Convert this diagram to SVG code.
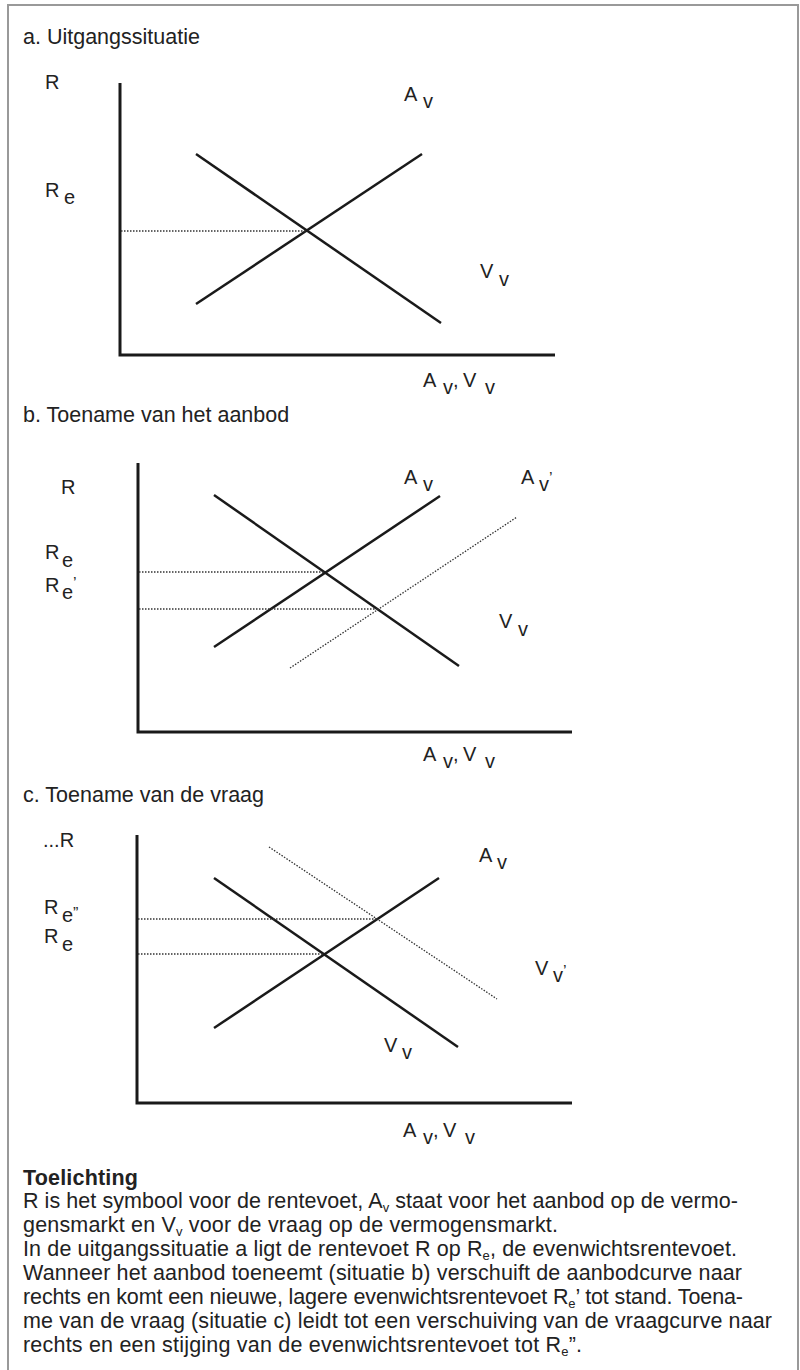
<svg xmlns="http://www.w3.org/2000/svg" width="800" height="1370" viewBox="0 0 800 1370">
<style>
text{font-family:"Liberation Sans",Arial,Helvetica,sans-serif;fill:#222}
.t{font-size:21.5px}
.l{font-size:20px}
.q{font-size:16px}
.sub{font-size:13px}
.b{font-weight:bold}
.ax{stroke:#1a1a1a;stroke-width:3;fill:none}
.cv{stroke:#1a1a1a;stroke-width:2.5;fill:none}
.dt{stroke:#333;stroke-width:1.3;stroke-dasharray:1.5 1.5;fill:none}
</style>
<rect x="0" y="0" width="800" height="1370" fill="#fff"/>
<rect id="frame" x="8" y="5" width="790" height="1400" fill="none" stroke="#999" stroke-width="2"/>

<g id="chart-a">
<text class="t" x="23" y="44">a. Uitgangssituatie</text>
<path class="ax" d="M120 83V355H555"/>
<line class="cv" x1="196" y1="304" x2="422" y2="154"/>
<line class="cv" x1="196" y1="154" x2="441" y2="323"/>
<line class="dt" x1="121" y1="231" x2="306" y2="231"/>
<text class="l" x="45" y="89">R</text>
<text class="l" x="45" y="197">R<tspan x="64" y="204">e</tspan></text>
<text class="l" x="404" y="101">A<tspan x="423" y="108">v</tspan></text>
<text class="l" x="480" y="278">V<tspan x="499" y="286">v</tspan></text>
<text class="l" x="423" y="387">A<tspan x="443" y="394">v</tspan><tspan x="453" y="387">,</tspan><tspan x="463" y="387">V</tspan><tspan x="485" y="394">v</tspan></text>
</g>

<g id="chart-b">
<text class="t" x="23" y="422">b. Toename van het aanbod</text>
<path class="ax" d="M138 463V732H572"/>
<line class="cv" x1="214" y1="647" x2="440" y2="496"/>
<line class="cv" x1="214" y1="495" x2="459" y2="666"/>
<line class="dt" x1="290" y1="668" x2="517" y2="517"/>
<line class="dt" x1="139" y1="572" x2="325" y2="572"/>
<line class="dt" x1="139" y1="609" x2="378" y2="609"/>
<text class="l" x="61" y="494">R</text>
<text class="l" x="45" y="559">R<tspan x="62" y="567">e</tspan></text>
<text class="l" x="45" y="592">R<tspan x="62" y="599">e</tspan><tspan class="q" x="73" y="589">’</tspan></text>
<text class="l" x="404" y="484">A<tspan x="423" y="491">v</tspan></text>
<text class="l" x="521" y="484">A<tspan x="539" y="491">v</tspan><tspan class="q" x="549" y="484">’</tspan></text>
<text class="l" x="499" y="628">V<tspan x="518" y="636">v</tspan></text>
<text class="l" x="423" y="761">A<tspan x="443" y="768">v</tspan><tspan x="453" y="761">,</tspan><tspan x="463" y="761">V</tspan><tspan x="485" y="768">v</tspan></text>
</g>

<g id="chart-c">
<text class="t" x="23" y="802">c. Toename van de vraag</text>
<path class="ax" d="M137 835V1103H572"/>
<line class="cv" x1="214" y1="1028" x2="439" y2="878"/>
<line class="cv" x1="214" y1="878" x2="458" y2="1047"/>
<line class="dt" x1="269" y1="847" x2="497" y2="999"/>
<line class="dt" x1="138" y1="919" x2="377" y2="919"/>
<line class="dt" x1="138" y1="954" x2="324" y2="954"/>
<text class="l" x="43" y="847">...R</text>
<text class="l" x="44" y="914">R<tspan x="62" y="922">e</tspan><tspan class="q" x="73" y="919">”</tspan></text>
<text class="l" x="44" y="943">R<tspan x="62" y="951">e</tspan></text>
<text class="l" x="479" y="862">A<tspan x="497" y="869">v</tspan></text>
<text class="l" x="535" y="975">V<tspan x="553" y="982">v</tspan><tspan class="q" x="563" y="977">’</tspan></text>
<text class="l" x="384" y="1052">V<tspan x="402" y="1059">v</tspan></text>
<text class="l" x="403" y="1137">A<tspan x="423" y="1144">v</tspan><tspan x="433" y="1137">,</tspan><tspan x="443" y="1137">V</tspan><tspan x="465" y="1144">v</tspan></text>
</g>

<g id="toelichting">
<text class="t b" x="23" y="1185" textLength="115">Toelichting</text>
<text class="t" x="23" y="1208" textLength="715">R is het symbool voor de rentevoet, A<tspan class="sub" dy="4">v</tspan><tspan dy="-4"> staat voor het aanbod op de vermo-</tspan></text>
<text class="t" x="23" y="1232" textLength="535">gensmarkt en V<tspan class="sub" dy="4">v</tspan><tspan dy="-4"> voor de vraag op de vermogensmarkt.</tspan></text>
<text class="t" x="23" y="1256" textLength="714">In de uitgangssituatie a ligt de rentevoet R op R<tspan class="sub" dy="4">e</tspan><tspan dy="-4">, de evenwichtsrentevoet.</tspan></text>
<text class="t" x="23" y="1280" textLength="719">Wanneer het aanbod toeneemt (situatie b) verschuift de aanbodcurve naar</text>
<text class="t" x="23" y="1304" textLength="720">rechts en komt een nieuwe, lagere evenwichtsrentevoet R<tspan class="sub" dy="4">e</tspan><tspan dy="-4">’ tot stand. Toena-</tspan></text>
<text class="t" x="23" y="1328" textLength="749">me van de vraag (situatie c) leidt tot een verschuiving van de vraagcurve naar</text>
<text class="t" x="23" y="1352" textLength="559">rechts en een stijging van de evenwichtsrentevoet tot R<tspan class="sub" dy="4">e</tspan><tspan dy="-4">”.</tspan></text>
</g>
</svg>
